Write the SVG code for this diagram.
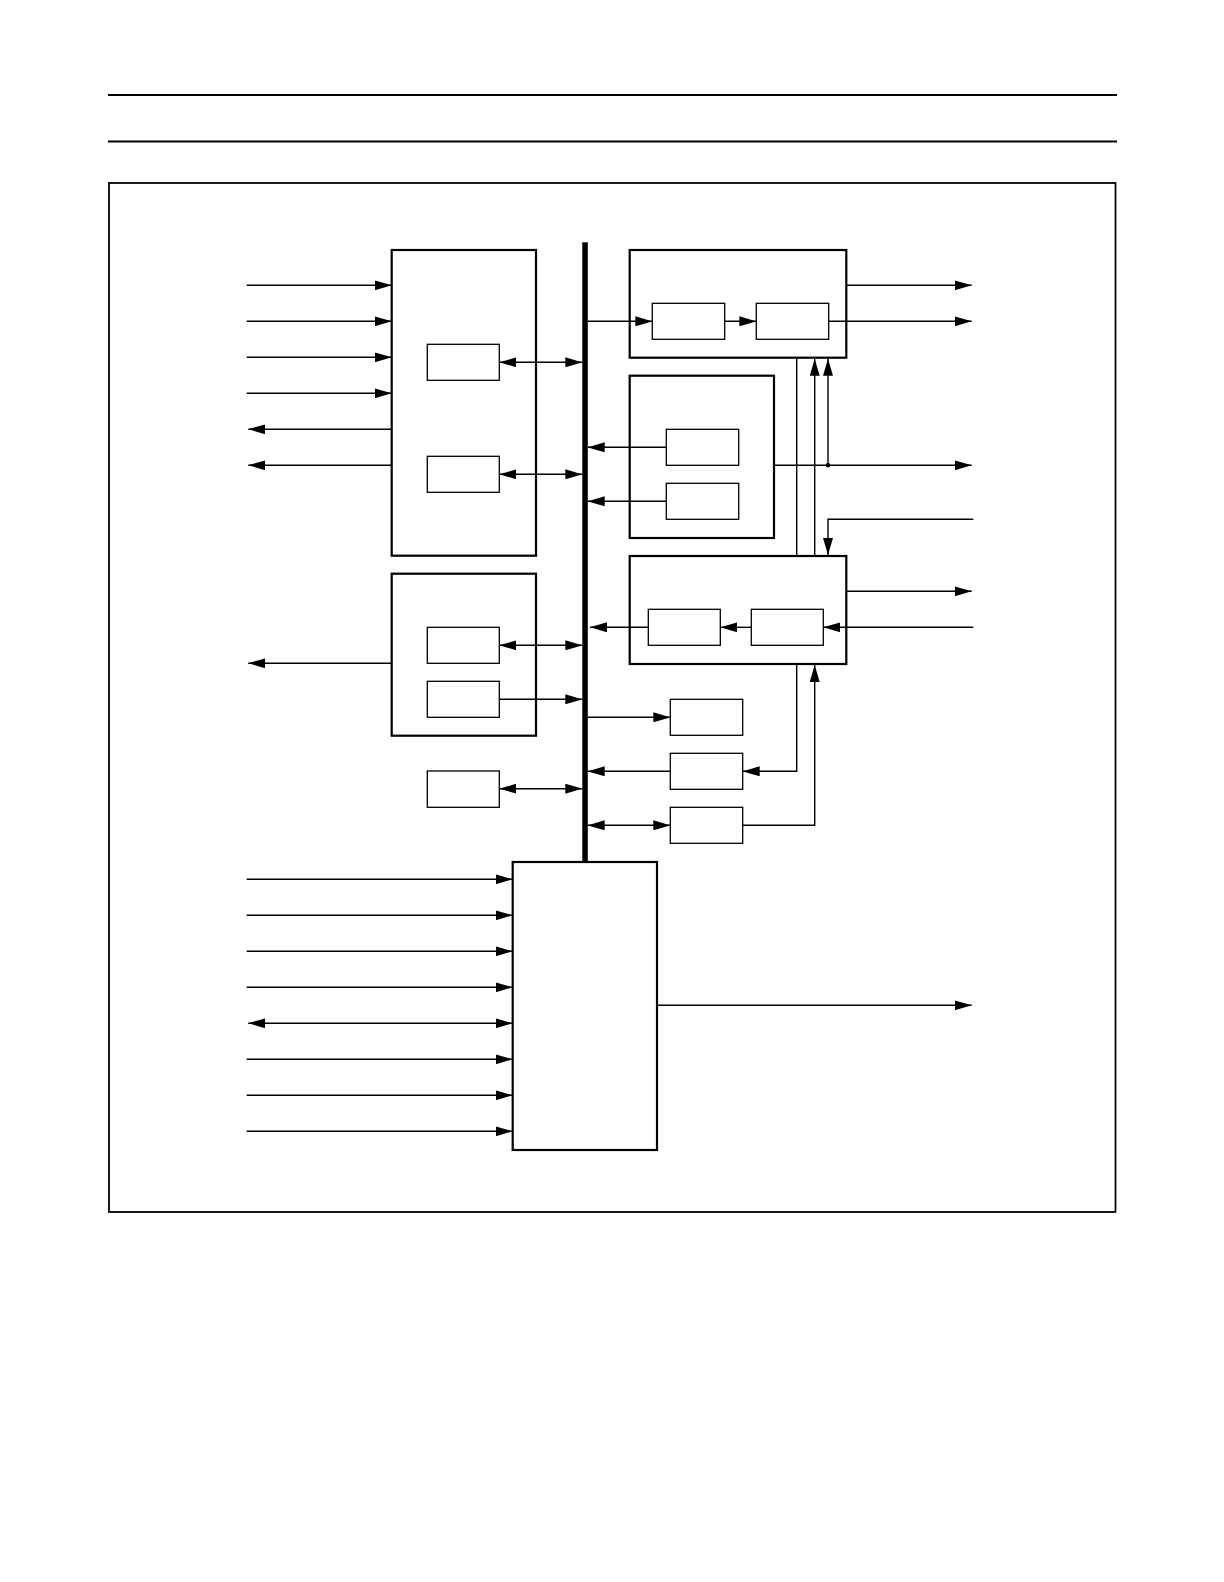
<svg xmlns="http://www.w3.org/2000/svg" width="1224" height="1582" viewBox="0 0 1224 1582">
<style>
.blk{fill:none;stroke:#000;stroke-width:2.2}
.in{fill:none;stroke:#000;stroke-width:1.3}
.c{fill:none;stroke:#000;stroke-width:1.4}
.e{marker-end:url(#ah)}
.b{marker-start:url(#ah);marker-end:url(#ah)}
.rule{stroke:#000;stroke-width:2.2}
</style>
<defs>
<marker id="ah" viewBox="0 0 17 10" refX="17" refY="5" markerWidth="17" markerHeight="10" markerUnits="userSpaceOnUse" orient="auto-start-reverse">
<path d="M0,0 L17,5 L0,10 z" fill="#000"/>
</marker>
</defs>
<rect width="1224" height="1582" fill="#fff"/>
<line class="rule" x1="108" y1="95" x2="1117" y2="95"/>
<line class="rule" x1="108" y1="141.5" x2="1117" y2="141.5"/>
<rect x="109" y="183" width="1006.5" height="1029" fill="none" stroke="#000" stroke-width="1.8"/>

<g id="bus"><rect x="582.3" y="242.3" width="5.5" height="620" fill="#000"/></g>

<g id="blockA"><rect class="blk" x="391.7" y="250" width="144.3" height="305.7"/></g>
<g id="boxA1"><rect class="in" x="427.3" y="344.3" width="72" height="36"/></g>
<g id="boxA2"><rect class="in" x="427.3" y="456.3" width="72" height="36"/></g>

<g id="blockB"><rect class="blk" x="629.7" y="250" width="216.6" height="107.7"/></g>
<g id="boxB1"><rect class="in" x="652.3" y="303.3" width="72.4" height="36"/></g>
<g id="boxB2"><rect class="in" x="756.3" y="303.3" width="72.4" height="36"/></g>

<g id="blockC"><rect class="blk" x="629.7" y="375.7" width="144.3" height="162.3"/></g>
<g id="boxC1"><rect class="in" x="666.3" y="429.3" width="72.4" height="36"/></g>
<g id="boxC2"><rect class="in" x="666.3" y="483.3" width="72.4" height="36"/></g>

<g id="blockD"><rect class="blk" x="629.7" y="556" width="216.6" height="108"/></g>
<g id="boxD1"><rect class="in" x="648.3" y="609.3" width="72" height="36"/></g>
<g id="boxD2"><rect class="in" x="751.3" y="609.3" width="72" height="36"/></g>

<g id="blockH"><rect class="blk" x="391.7" y="573.7" width="144.3" height="162"/></g>
<g id="boxH1"><rect class="in" x="427.3" y="627.3" width="72" height="36"/></g>
<g id="boxH2"><rect class="in" x="427.3" y="681.3" width="72" height="36"/></g>

<g id="boxI"><rect class="in" x="427.3" y="771" width="72" height="36.3"/></g>
<g id="boxE"><rect class="in" x="670.3" y="699.3" width="72.4" height="36"/></g>
<g id="boxF"><rect class="in" x="670.3" y="753.3" width="72.4" height="36"/></g>
<g id="boxG"><rect class="in" x="670.3" y="807.3" width="72.4" height="36"/></g>

<g id="blockJ"><rect class="blk" x="512.7" y="862" width="144.3" height="288"/></g>

<g id="connectors">
<line class="c e" x1="246.7" y1="285.3" x2="391.7" y2="285.3"/>
<line class="c e" x1="246.7" y1="321.3" x2="391.7" y2="321.3"/>
<line class="c e" x1="246.7" y1="357.3" x2="391.7" y2="357.3"/>
<line class="c e" x1="246.7" y1="393.3" x2="391.7" y2="393.3"/>
<line class="c e" x1="391.7" y1="429.3" x2="248.3" y2="429.3"/>
<line class="c e" x1="391.7" y1="465.3" x2="248.3" y2="465.3"/>
<line class="c b" x1="499.3" y1="362.3" x2="582.3" y2="362.3"/>
<line class="c b" x1="499.3" y1="474.3" x2="582.3" y2="474.3"/>
<line class="c e" x1="587.7" y1="321.3" x2="652.3" y2="321.3"/>
<line class="c e" x1="724.7" y1="321.3" x2="756.3" y2="321.3"/>
<line class="c e" x1="846.3" y1="285.3" x2="971.7" y2="285.3"/>
<line class="c e" x1="828.7" y1="321.3" x2="971.7" y2="321.3"/>
<line class="c e" x1="666.3" y1="447.3" x2="587.7" y2="447.3"/>
<line class="c e" x1="666.3" y1="501.3" x2="587.7" y2="501.3"/>
<line class="c e" x1="774" y1="465.3" x2="971.7" y2="465.3"/>
<circle cx="828" cy="465.3" r="2.3" fill="#000"/>
<line class="c e" x1="828" y1="465.3" x2="828" y2="358.8"/>
<line class="c e" x1="814.7" y1="555" x2="814.7" y2="358.8"/>
<line class="c" x1="796.7" y1="357.7" x2="796.7" y2="556"/>
<polyline class="c e" points="973.3,519.3 828,519.3 828,555"/>
<line class="c e" x1="846.3" y1="591.3" x2="971.7" y2="591.3"/>
<line class="c e" x1="973.3" y1="627.3" x2="823.3" y2="627.3"/>
<line class="c e" x1="751.3" y1="627.3" x2="720.3" y2="627.3"/>
<line class="c e" x1="648.3" y1="627.3" x2="590" y2="627.3"/>
<line class="c b" x1="499.3" y1="645.3" x2="582.3" y2="645.3"/>
<line class="c e" x1="499.3" y1="699.3" x2="582.3" y2="699.3"/>
<line class="c e" x1="391.7" y1="663.3" x2="248.3" y2="663.3"/>
<line class="c e" x1="587.7" y1="717.3" x2="670.3" y2="717.3"/>
<line class="c e" x1="670.3" y1="771.3" x2="587.7" y2="771.3"/>
<polyline class="c e" points="796.7,664 796.7,771.3 742.7,771.3"/>
<line class="c b" x1="499.3" y1="788.7" x2="582.3" y2="788.7"/>
<line class="c b" x1="587.7" y1="825.3" x2="670.3" y2="825.3"/>
<polyline class="c e" points="742.7,825.3 814.7,825.3 814.7,665"/>
<line class="c e" x1="246.7" y1="879.3" x2="512.7" y2="879.3"/>
<line class="c e" x1="246.7" y1="915.3" x2="512.7" y2="915.3"/>
<line class="c e" x1="246.7" y1="951.3" x2="512.7" y2="951.3"/>
<line class="c e" x1="246.7" y1="987.3" x2="512.7" y2="987.3"/>
<line class="c b" x1="248.3" y1="1023.3" x2="512.7" y2="1023.3"/>
<line class="c e" x1="246.7" y1="1059.3" x2="512.7" y2="1059.3"/>
<line class="c e" x1="246.7" y1="1095.3" x2="512.7" y2="1095.3"/>
<line class="c e" x1="246.7" y1="1131.3" x2="512.7" y2="1131.3"/>
<line class="c e" x1="657" y1="1005.3" x2="971.7" y2="1005.3"/>
</g>
</svg>
